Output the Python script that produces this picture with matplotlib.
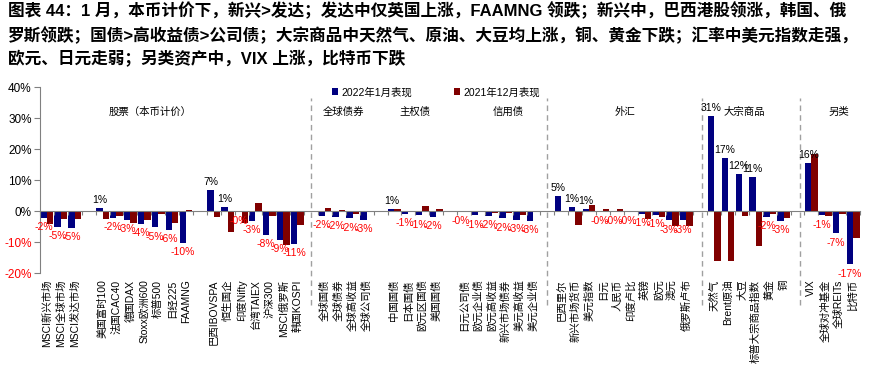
import numpy as np
import matplotlib
matplotlib.use('Agg')
import matplotlib.pyplot as plt

plt.rcParams['font.family'] = ['Liberation Sans', 'Noto Sans CJK SC', 'DejaVu Sans']
plt.rcParams['axes.unicode_minus'] = False

nan = np.nan

# categories ('' = gap between groups)
categories = ['MSCI新兴市场', 'MSCI全球市场', 'MSCI发达市场', '',
              '美国富时100', '法国CAC40', '德国DAX', 'Stoxx欧洲600', '标普500', '日经225', 'FAAMNG', '',
              '巴西IBOVSPA', '恒生国企', '印度Nifty', '台湾TAIEX', '沪深300', 'MSCI俄罗斯', '韩国KOSPI', '',
              '全球国债', '全球债券', '全球高收益', '全球公司债', '',
              '中国国债', '日本国债', '欧元区国债', '美国国债', '',
              '日元公司债', '欧元企业债', '欧元高收益', '新兴市场债券', '美元高收益', '美元企业债', '',
              '巴西里尔', '新兴市场货币', '美元指数', '日元', '人民币', '印度卢比', '英镑', '欧元', '澳元', '俄罗斯卢布', '',
              '天然气', 'Brent原油', '大豆', '标普大宗商品指数', '黄金', '铜', '',
              'VIX', '全球对冲基金', '全球REITs', '比特币']

# 2022年1月表现 (%)
jan_2022 = [-2.2, -5.0, -5.4, nan,
            0.9, -2.3, -2.9, -4.1, -5.3, -6.2, -10.4, nan,
            6.8, 1.3, -0.2, -3.2, -7.7, -9.4, -10.6, nan,
            -1.7, -2.0, -2.4, -2.8, nan,
            0.8, -0.9, -1.4, -2.0, nan,
            -0.3, -1.4, -1.7, -2.4, -2.9, -3.3, nan,
            4.9, 1.3, 0.6, -0.2, -0.1, -0.1, -0.9, -1.3, -3.0, -3.0, nan,
            30.6, 17.2, 12.0, 11.0, -1.9, -3.2, nan,
            15.5, -1.4, -7.2, -17.2]

# 2021年12月表现 (%)
dec_2021 = [-4.1, -2.7, -2.5, nan,
            -2.7, -1.7, -3.9, -2.9, -1.1, -3.9, 0.3, nan,
            -1.8, -6.9, -3.8, 2.5, -1.7, -11.0, -4.6, nan,
            0.9, 0.4, -1.1, -0.1, nan,
            0.8, 0.0, 1.6, 0.8, nan,
            0.0, -0.1, -0.6, -0.5, -1.2, -0.1, nan,
            0.0, -4.5, 1.9, 0.6, 0.5, -0.2, -2.7, -2.0, -4.8, -4.7, nan,
            -16.1, -16.1, -1.7, -11.4, -0.8, -2.3, nan,
            18.3, -1.5, -1.1, -8.6]

group_names = ['股票（本币计价）', '全球债券', '主权债', '信用债', '外汇', '大宗商品', '另类']
group_x = [7.4, 21.3, 26.5, 33.2, 41.6, 50.2, 57.0]
dividers = [19, 36, 47.1, 54.2]

title = ('图表 44：1 月，本币计价下，新兴>发达；发达中仅英国上涨，FAAMNG 领跌；新兴中，巴西港股领涨，韩国、俄\n'
         '罗斯领跌；国债>高收益债>公司债；大宗商品中天然气、原油、大豆均上涨，铜、黄金下跌；汇率中美元指数走强，\n'
         '欧元、日元走弱；另类资产中，VIX 上涨，比特币下跌')

blue = '#000080'
red = '#800000'

fig = plt.figure(figsize=(8.78, 3.72), dpi=100)
ax = fig.add_axes([0.0456, 0.266, 0.934, 0.5])

x = np.arange(len(categories))
w = 0.46
jan = np.array(jan_2022, dtype=float)
dec = np.array(dec_2021, dtype=float)
ax.bar(x - w / 2, jan, w, color=blue, label='2022年1月表现')
ax.bar(x + w / 2, dec, w, color=red, label='2021年12月表现')

# value labels for Jan series
for xi, v in zip(x, jan):
    if np.isnan(v):
        continue
    txt = '{:.0f}%'.format(v)
    if v >= 0:
        ax.annotate(txt, (xi - w / 2, v), xytext=(0, 2), textcoords='offset points',
                    ha='center', va='bottom', fontsize=7.5, color='black')
    else:
        ax.annotate(txt, (xi - w / 2, v), xytext=(0, -3), textcoords='offset points',
                    ha='center', va='top', fontsize=7.5, color='#FF0000')

ax.set_xlim(-0.5, len(categories) - 0.5)
ax.set_ylim(-20, 40)
ax.set_yticks(range(-20, 41, 10))
ax.set_yticklabels(['{}%'.format(t) for t in range(-20, 41, 10)], fontsize=8.5)
for lab, t in zip(ax.get_yticklabels(), range(-20, 41, 10)):
    if t < 0:
        lab.set_color('#FF0000')

for s in ['top', 'right']:
    ax.spines[s].set_visible(False)
ax.spines['left'].set_color('#808080')
ax.spines['bottom'].set_color('#808080')
ax.spines['bottom'].set_position(('data', 0))
ax.set_xticks(np.arange(-0.5, len(categories), 1.0))
ax.set_xticklabels([])
ax.tick_params(axis='x', direction='out', length=3, color='#808080')
ax.tick_params(axis='y', direction='out', length=4, color='#808080', pad=2)

# category labels below plot
for xi, name in zip(x, categories):
    if name:
        ax.text(xi, -0.035, name, transform=ax.get_xaxis_transform(), rotation=90,
                ha='center', va='top', fontsize=7.5)

for gx, gn in zip(group_x, group_names):
    ax.text(gx, 32, gn, ha='center', va='center', fontsize=7.5)

for d in dividers:
    ax.axvline(d, ymin=-0.17, ymax=0.94, clip_on=False, color='#A0A0A0', lw=1,
               ls=(0, (4, 3)))

ax.legend(loc='center', bbox_to_anchor=(0.483, 0.973), ncol=2, frameon=False,
          fontsize=7.5, handlelength=0.6, handleheight=0.6, handletextpad=0.3,
          columnspacing=4)

fig.text(0.009, 0.995, title, ha='left', va='top', fontsize=12, fontweight='bold',
         linespacing=1.45, family=['Liberation Sans', 'Noto Sans CJK SC'])

fig.savefig('out.png', dpi=100)
